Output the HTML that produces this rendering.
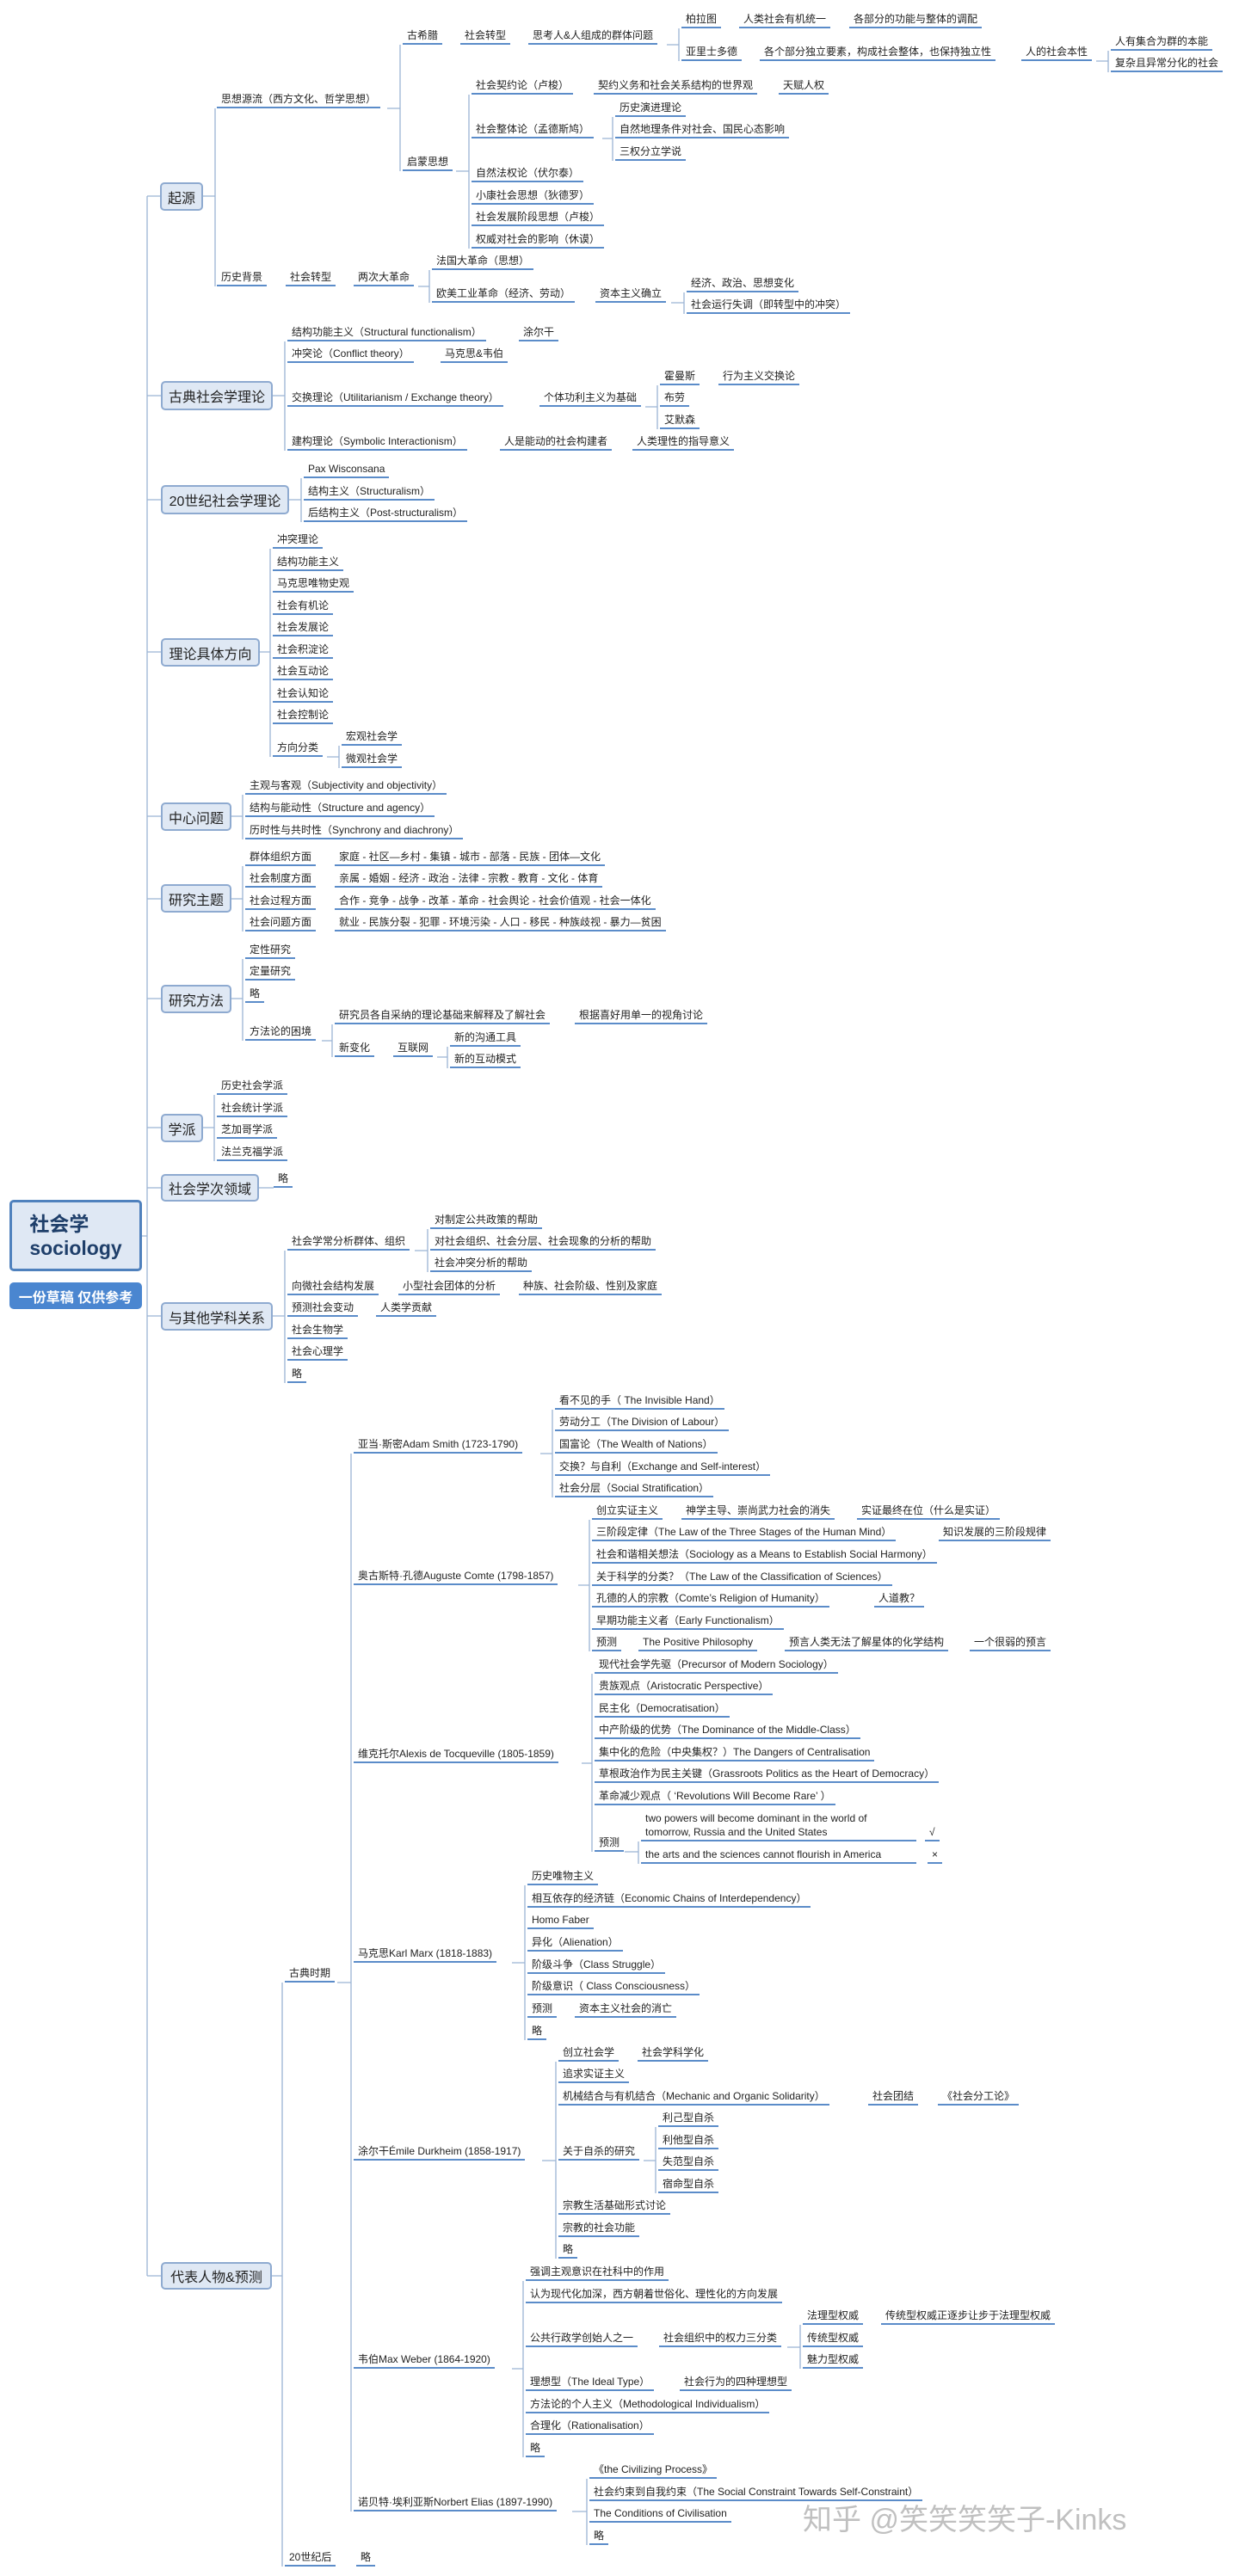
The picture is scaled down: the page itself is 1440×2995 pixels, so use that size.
<!DOCTYPE html>
<html><head><meta charset="utf-8">
<style>
html,body{margin:0;padding:0;background:#fff}
body{width:1440px;height:2995px;position:relative;overflow:hidden;font-family:"Liberation Sans","Noto Sans CJK SC",sans-serif;color:#222}
.n{position:absolute;font-size:12px;line-height:16px;padding:0 5px 1px;border-bottom:2px solid #5b8cc9;white-space:nowrap}
.b{position:absolute;box-sizing:border-box;background:#dfe8f4;border:2px solid #8eaad0;border-radius:5px;font-size:16px;color:#222;display:flex;align-items:center;justify-content:center;white-space:nowrap}
svg{position:absolute;left:0;top:0}
</style></head><body>
<svg width="1440" height="2995" fill="none" stroke="#9bb3d4" stroke-width="1.3">
<path d="M171 228V2646 M171 228H187 M171 460H187 M171 581H187 M171 758H187 M171 949H187 M171 1045H187 M171 1161H187 M171 1311H187 M171 1381H187 M171 1530H187 M171 2646H187 M165 1437H171"/>
<path d="M236 228H250 M250 126V333 M450 126H465 M465 52V199 M775 52H789 M789 33V71 M1274 71H1288 M1288 59V84 M530 199H545 M545 110V289 M700 161H712 M712 136V187 M486 333H499 M499 314V352 M780 352H795 M795 340V365"/>
<path d="M317 460H331 M331 397V524 M750 473H764 M764 448V499 M336 581H350 M350 556V607 M302 758H314 M314 638V880 M380 880H394 M394 867V893 M269 949H282 M282 924V976 M269 1045H282 M282 1007V1083 M269 1161H282 M282 1115V1210 M374 1210H386 M386 1191V1229 M508 1229H520 M520 1217V1242 M236 1311H249 M249 1273V1350 M301 1381H318 M317 1530H331 M331 1454V1608 M482 1454H497 M497 1429V1479"/>
<path d="M316 2646H328 M328 2305V2984 M392 2305H408 M408 1690V2920 M628 1690H642 M642 1639V1741 M672 1843H685 M685 1767V1920 M676 2050H688 M688 1946V2153 M726 2153H742 M742 2141V2167 M595 2282H610 M610 2192V2372 M630 2512H646 M646 2397V2626 M748 2512H762 M762 2473V2550 M595 2754H608 M608 2652V2857 M915 2729H930 M930 2703V2754 M665 2920H682 M682 2882V2959"/>
</svg>

<div class="b" style="left:11px;top:1395px;width:154px;height:83px;border:3px solid #4f81bd;flex-direction:column;font-weight:bold;font-size:23px;color:#1f3f6a;line-height:28px">社会学<br>sociology</div>
<div class="b" style="left:11px;top:1491px;width:154px;height:31px;background:#4a86d0;border-color:#4a86d0;color:#fff;font-weight:bold;font-size:16px">一份草稿 仅供参考</div>

<div class="b" style="left:186px;top:212px;width:50px;height:33px">起源</div>
<div class="b" style="left:187px;top:443px;width:130px;height:34px">古典社会学理论</div>
<div class="b" style="left:187px;top:564px;width:149px;height:34px">20世纪社会学理论</div>
<div class="b" style="left:187px;top:742px;width:115px;height:33px">理论具体方向</div>
<div class="b" style="left:187px;top:933px;width:82px;height:33px">中心问题</div>
<div class="b" style="left:187px;top:1028px;width:82px;height:33px">研究主题</div>
<div class="b" style="left:187px;top:1145px;width:82px;height:33px">研究方法</div>
<div class="b" style="left:187px;top:1295px;width:49px;height:33px">学派</div>
<div class="b" style="left:187px;top:1365px;width:114px;height:32px">社会学次领域</div>
<div class="b" style="left:187px;top:1514px;width:130px;height:33px">与其他学科关系</div>
<div class="b" style="left:187px;top:2630px;width:129px;height:32px">代表人物&amp;预测</div>

<div class="n" style="left:468px;top:33px">古希腊</div>
<div class="n" style="left:535px;top:33px">社会转型</div>
<div class="n" style="left:614px;top:33px">思考人&amp;人组成的群体问题</div>
<div class="n" style="left:792px;top:14px">柏拉图</div>
<div class="n" style="left:859px;top:14px">人类社会有机统一</div>
<div class="n" style="left:987px;top:14px">各部分的功能与整体的调配</div>
<div class="n" style="left:792px;top:52px">亚里士多德</div>
<div class="n" style="left:883px;top:52px">各个部分独立要素，构成社会整体，也保持独立性</div>
<div class="n" style="left:1187px;top:52px">人的社会本性</div>
<div class="n" style="left:1291px;top:40px">人有集合为群的本能</div>
<div class="n" style="left:1291px;top:65px">复杂且异常分化的社会</div>
<div class="n" style="left:252px;top:107px">思想源流（西方文化、哲学思想）</div>
<div class="n" style="left:468px;top:180px">启蒙思想</div>
<div class="n" style="left:548px;top:91px">社会契约论（卢梭）</div>
<div class="n" style="left:690px;top:91px">契约义务和社会关系结构的世界观</div>
<div class="n" style="left:905px;top:91px">天赋人权</div>
<div class="n" style="left:548px;top:142px">社会整体论（孟德斯鸠）</div>
<div class="n" style="left:715px;top:117px">历史演进理论</div>
<div class="n" style="left:715px;top:142px">自然地理条件对社会、国民心态影响</div>
<div class="n" style="left:715px;top:168px">三权分立学说</div>
<div class="n" style="left:548px;top:193px">自然法权论（伏尔泰）</div>
<div class="n" style="left:548px;top:219px">小康社会思想（狄德罗）</div>
<div class="n" style="left:548px;top:244px">社会发展阶段思想（卢梭）</div>
<div class="n" style="left:548px;top:270px">权威对社会的影响（休谟）</div>
<div class="n" style="left:252px;top:314px">历史背景</div>
<div class="n" style="left:332px;top:314px">社会转型</div>
<div class="n" style="left:411px;top:314px">两次大革命</div>
<div class="n" style="left:502px;top:295px">法国大革命（思想）</div>
<div class="n" style="left:502px;top:333px">欧美工业革命（经济、劳动）</div>
<div class="n" style="left:692px;top:333px">资本主义确立</div>
<div class="n" style="left:798px;top:321px">经济、政治、思想变化</div>
<div class="n" style="left:798px;top:346px">社会运行失调（即转型中的冲突）</div>

<div class="n" style="left:334px;top:378px">结构功能主义（Structural functionalism）</div>
<div class="n" style="left:603px;top:378px">涂尔干</div>
<div class="n" style="left:334px;top:403px">冲突论（Conflict theory）</div>
<div class="n" style="left:512px;top:403px">马克思&amp;韦伯</div>
<div class="n" style="left:334px;top:454px">交换理论（Utilitarianism / Exchange theory）</div>
<div class="n" style="left:627px;top:454px">个体功利主义为基础</div>
<div class="n" style="left:767px;top:429px">霍曼斯</div>
<div class="n" style="left:835px;top:429px">行为主义交换论</div>
<div class="n" style="left:767px;top:454px">布劳</div>
<div class="n" style="left:767px;top:480px">艾默森</div>
<div class="n" style="left:334px;top:505px">建构理论（Symbolic Interactionism）</div>
<div class="n" style="left:581px;top:505px">人是能动的社会构建者</div>
<div class="n" style="left:735px;top:505px">人类理性的指导意义</div>

<div class="n" style="left:353px;top:537px">Pax Wisconsana</div>
<div class="n" style="left:353px;top:563px">结构主义（Structuralism）</div>
<div class="n" style="left:353px;top:588px">后结构主义（Post-structuralism）</div>

<div class="n" style="left:317px;top:619px">冲突理论</div>
<div class="n" style="left:317px;top:645px">结构功能主义</div>
<div class="n" style="left:317px;top:670px">马克思唯物史观</div>
<div class="n" style="left:317px;top:696px">社会有机论</div>
<div class="n" style="left:317px;top:721px">社会发展论</div>
<div class="n" style="left:317px;top:747px">社会积淀论</div>
<div class="n" style="left:317px;top:772px">社会互动论</div>
<div class="n" style="left:317px;top:798px">社会认知论</div>
<div class="n" style="left:317px;top:823px">社会控制论</div>
<div class="n" style="left:317px;top:861px">方向分类</div>
<div class="n" style="left:397px;top:848px">宏观社会学</div>
<div class="n" style="left:397px;top:874px">微观社会学</div>

<div class="n" style="left:285px;top:905px">主观与客观（Subjectivity and objectivity）</div>
<div class="n" style="left:285px;top:931px">结构与能动性（Structure and agency）</div>
<div class="n" style="left:285px;top:957px">历时性与共时性（Synchrony and diachrony）</div>

<div class="n" style="left:285px;top:988px">群体组织方面</div>
<div class="n" style="left:389px;top:988px">家庭 - 社区—乡村 - 集镇 - 城市 - 部落 - 民族 - 团体—文化</div>
<div class="n" style="left:285px;top:1013px">社会制度方面</div>
<div class="n" style="left:389px;top:1013px">亲属 - 婚姻 - 经济 - 政治 - 法律 - 宗教 - 教育 - 文化 - 体育</div>
<div class="n" style="left:285px;top:1039px">社会过程方面</div>
<div class="n" style="left:389px;top:1039px">合作 - 竞争 - 战争 - 改革 - 革命 - 社会舆论 - 社会价值观 - 社会一体化</div>
<div class="n" style="left:285px;top:1064px">社会问题方面</div>
<div class="n" style="left:389px;top:1064px">就业 - 民族分裂 - 犯罪 - 环境污染 - 人口 - 移民 - 种族歧视 - 暴力—贫困</div>

<div class="n" style="left:285px;top:1096px">定性研究</div>
<div class="n" style="left:285px;top:1121px">定量研究</div>
<div class="n" style="left:285px;top:1147px">略</div>
<div class="n" style="left:285px;top:1191px">方法论的困境</div>
<div class="n" style="left:389px;top:1172px">研究员各自采纳的理论基础来解释及了解社会</div>
<div class="n" style="left:668px;top:1172px">根据喜好用单一的视角讨论</div>
<div class="n" style="left:389px;top:1210px">新变化</div>
<div class="n" style="left:457px;top:1210px">互联网</div>
<div class="n" style="left:523px;top:1198px">新的沟通工具</div>
<div class="n" style="left:523px;top:1223px">新的互动模式</div>

<div class="n" style="left:252px;top:1254px">历史社会学派</div>
<div class="n" style="left:252px;top:1280px">社会统计学派</div>
<div class="n" style="left:252px;top:1305px">芝加哥学派</div>
<div class="n" style="left:252px;top:1331px">法兰克福学派</div>

<div class="n" style="left:318px;top:1362px">略</div>

<div class="n" style="left:334px;top:1435px">社会学常分析群体、组织</div>
<div class="n" style="left:500px;top:1410px">对制定公共政策的帮助</div>
<div class="n" style="left:500px;top:1435px">对社会组织、社会分层、社会现象的分析的帮助</div>
<div class="n" style="left:500px;top:1460px">社会冲突分析的帮助</div>
<div class="n" style="left:334px;top:1487px">向微社会结构发展</div>
<div class="n" style="left:463px;top:1487px">小型社会团体的分析</div>
<div class="n" style="left:603px;top:1487px">种族、社会阶级、性别及家庭</div>
<div class="n" style="left:334px;top:1512px">预测社会变动</div>
<div class="n" style="left:437px;top:1512px">人类学贡献</div>
<div class="n" style="left:334px;top:1538px">社会生物学</div>
<div class="n" style="left:334px;top:1563px">社会心理学</div>
<div class="n" style="left:334px;top:1589px">略</div>

<div class="n" style="left:331px;top:2286px">古典时期</div>
<div class="n" style="left:331px;top:2965px">20世纪后</div>
<div class="n" style="left:414px;top:2965px">略</div>

<div class="n" style="left:411px;top:1671px">亚当·斯密Adam Smith (1723-1790)</div>
<div class="n" style="left:645px;top:1620px">看不见的手（ The Invisible Hand）</div>
<div class="n" style="left:645px;top:1645px">劳动分工（The Division of Labour）</div>
<div class="n" style="left:645px;top:1671px">国富论（The Wealth of Nations）</div>
<div class="n" style="left:645px;top:1697px">交换？与自利（Exchange and Self-interest）</div>
<div class="n" style="left:645px;top:1722px">社会分层（Social Stratification）</div>

<div class="n" style="left:411px;top:1824px">奥古斯特·孔德Auguste Comte (1798-1857)</div>
<div class="n" style="left:688px;top:1748px">创立实证主义</div>
<div class="n" style="left:792px;top:1748px">神学主导、崇尚武力社会的消失</div>
<div class="n" style="left:996px;top:1748px">实证最终在位（什么是实证）</div>
<div class="n" style="left:688px;top:1773px">三阶段定律（The Law of the Three Stages of the Human Mind）</div>
<div class="n" style="left:1091px;top:1773px">知识发展的三阶段规律</div>
<div class="n" style="left:688px;top:1799px">社会和谐相关想法（Sociology as a Means to Establish Social Harmony）</div>
<div class="n" style="left:688px;top:1825px">关于科学的分类？（The Law of the Classification of Sciences）</div>
<div class="n" style="left:688px;top:1850px">孔德的人的宗教（Comte’s Religion of Humanity）</div>
<div class="n" style="left:1016px;top:1850px">人道教？</div>
<div class="n" style="left:688px;top:1876px">早期功能主义者（Early Functionalism）</div>
<div class="n" style="left:688px;top:1901px">预测</div>
<div class="n" style="left:742px;top:1901px">The Positive Philosophy</div>
<div class="n" style="left:912px;top:1901px">预言人类无法了解星体的化学结构</div>
<div class="n" style="left:1127px;top:1901px">一个很弱的预言</div>

<div class="n" style="left:411px;top:2031px">维克托尔Alexis de Tocqueville (1805-1859)</div>
<div class="n" style="left:691px;top:1927px">现代社会学先驱（Precursor of Modern Sociology）</div>
<div class="n" style="left:691px;top:1952px">贵族观点（Aristocratic Perspective）</div>
<div class="n" style="left:691px;top:1978px">民主化（Democratisation）</div>
<div class="n" style="left:691px;top:2003px">中产阶级的优势（The Dominance of the Middle-Class）</div>
<div class="n" style="left:691px;top:2029px">集中化的危险（中央集权？）The Dangers of Centralisation</div>
<div class="n" style="left:691px;top:2054px">草根政治作为民主关键（Grassroots Politics as the Heart of Democracy）</div>
<div class="n" style="left:691px;top:2080px">革命减少观点（ ‘Revolutions Will Become Rare’ ）</div>
<div class="n" style="left:691px;top:2134px">预测</div>
<div class="n" style="left:745px;top:2106px;width:310px">two powers will become dominant in the world of<br>tomorrow, Russia and the United States</div>
<div class="n" style="left:1075px;top:2122px">√</div>
<div class="n" style="left:745px;top:2148px;width:310px">the arts and the sciences cannot flourish in America</div>
<div class="n" style="left:1078px;top:2148px">×</div>

<div class="n" style="left:411px;top:2263px">马克思Karl Marx (1818-1883)</div>
<div class="n" style="left:613px;top:2173px">历史唯物主义</div>
<div class="n" style="left:613px;top:2199px">相互依存的经济链（Economic Chains of Interdependency）</div>
<div class="n" style="left:613px;top:2224px">Homo Faber</div>
<div class="n" style="left:613px;top:2250px">异化（Alienation）</div>
<div class="n" style="left:613px;top:2276px">阶级斗争（Class Struggle）</div>
<div class="n" style="left:613px;top:2301px">阶级意识（ Class Consciousness）</div>
<div class="n" style="left:613px;top:2327px">预测</div>
<div class="n" style="left:668px;top:2327px">资本主义社会的消亡</div>
<div class="n" style="left:613px;top:2353px">略</div>

<div class="n" style="left:411px;top:2493px">涂尔干Émile Durkheim (1858-1917)</div>
<div class="n" style="left:649px;top:2378px">创立社会学</div>
<div class="n" style="left:741px;top:2378px">社会学科学化</div>
<div class="n" style="left:649px;top:2403px">追求实证主义</div>
<div class="n" style="left:649px;top:2429px">机械结合与有机结合（Mechanic and Organic Solidarity）</div>
<div class="n" style="left:1009px;top:2429px">社会团结</div>
<div class="n" style="left:1090px;top:2429px">《社会分工论》</div>
<div class="n" style="left:649px;top:2493px">关于自杀的研究</div>
<div class="n" style="left:765px;top:2454px">利己型自杀</div>
<div class="n" style="left:765px;top:2480px">利他型自杀</div>
<div class="n" style="left:765px;top:2505px">失范型自杀</div>
<div class="n" style="left:765px;top:2531px">宿命型自杀</div>
<div class="n" style="left:649px;top:2556px">宗教生活基础形式讨论</div>
<div class="n" style="left:649px;top:2582px">宗教的社会功能</div>
<div class="n" style="left:649px;top:2607px">略</div>

<div class="n" style="left:411px;top:2735px">韦伯Max Weber (1864-1920)</div>
<div class="n" style="left:611px;top:2633px">强调主观意识在社科中的作用</div>
<div class="n" style="left:611px;top:2659px">认为现代化加深，西方朝着世俗化、理性化的方向发展</div>
<div class="n" style="left:611px;top:2710px">公共行政学创始人之一</div>
<div class="n" style="left:766px;top:2710px">社会组织中的权力三分类</div>
<div class="n" style="left:933px;top:2684px">法理型权威</div>
<div class="n" style="left:1024px;top:2684px">传统型权威正逐步让步于法理型权威</div>
<div class="n" style="left:933px;top:2710px">传统型权威</div>
<div class="n" style="left:933px;top:2735px">魅力型权威</div>
<div class="n" style="left:611px;top:2761px">理想型（The Ideal Type）</div>
<div class="n" style="left:790px;top:2761px">社会行为的四种理想型</div>
<div class="n" style="left:611px;top:2787px">方法论的个人主义（Methodological Individualism）</div>
<div class="n" style="left:611px;top:2812px">合理化（Rationalisation）</div>
<div class="n" style="left:611px;top:2838px">略</div>

<div class="n" style="left:411px;top:2901px">诺贝特·埃利亚斯Norbert Elias (1897-1990)</div>
<div class="n" style="left:685px;top:2863px">《the Civilizing Process》</div>
<div class="n" style="left:685px;top:2889px">社会约束到自我约束（The Social Constraint Towards Self-Constraint）</div>
<div class="n" style="left:685px;top:2914px">The Conditions of Civilisation</div>
<div class="n" style="left:685px;top:2940px">略</div>

<div style="position:absolute;left:933px;top:2908px;font-size:34px;line-height:44px;color:rgba(140,140,140,0.55);white-space:nowrap">知乎 @笑笑笑笑子-Kinks</div>
</body></html>
